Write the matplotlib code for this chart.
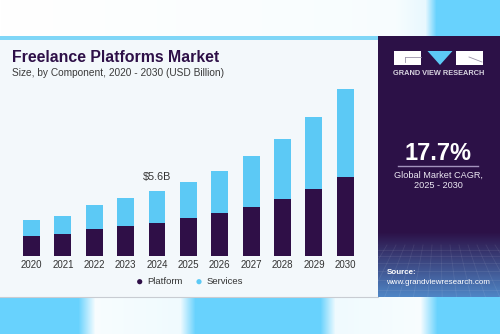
#!/usr/bin/env python3
"""
Freelance platforms market size by component, 2020 - 2030 (stacked bars).
"""

import numpy as np
import matplotlib
matplotlib.use("Agg")
import matplotlib.pyplot as plt
from matplotlib.patches import Rectangle, Polygon, Circle
from matplotlib.colors import to_rgb

# Data (USD billion)
years = ["2020", "2021", "2022", "2023", "2024", "2025", "2026", "2027", "2028", "2029", "2030"]
platform = [1.67, 1.84, 2.30, 2.56, 2.84, 3.22, 3.65, 4.22, 4.86, 5.72, 6.76]
services = [1.43, 1.61, 2.10, 2.39, 2.76, 3.13, 3.65, 4.35, 5.17, 6.21, 7.61]
callout_year = "2024"
callout_text = "$5.6B"
cagr_text = "17.7%"

PLATFORM_COL = "#2f0f47"
SERVICES_COL = "#5cc9f5"
CARD_COL = "#f3f8fb"
PANEL_COL = "#2c1147"
CYAN = "#68d2fd"

plt.rcParams['font.family'] = ['Liberation Sans', 'DejaVu Sans']

W, H = 500, 334
fig = plt.figure(figsize=(5.0, 3.34), dpi=100)

# ---- background / frame in pixel coordinates ----
bg = fig.add_axes([0, 0, 1, 1])
bg.set_xlim(0, W)
bg.set_ylim(H, 0)
bg.axis('off')

img = np.ones((H, W, 3))
xs = np.arange(W)
cyan = np.array(to_rgb(CYAN))
white = np.array([1.0, 1.0, 1.0])
# top band: white fading into cyan on the right
t_top = np.interp(xs, [0, 395, 425, 436, W], [0, 0.05, 0.15, 1, 1])
img[:36] = white * (1 - t_top[:, None]) + cyan * t_top[:, None]
# bottom band: cyan with two soft white patches
t_bot = np.interp(xs, [0, 78, 95, 180, 195, 320, 335, 420, 437, W],
                  [1, 1, 0.05, 0.1, 1, 1, 0.1, 0.05, 1, 1])
img[297:] = white * (1 - t_bot[:, None]) + cyan * t_bot[:, None]
bg.imshow(img, extent=[0, W, H, 0], aspect='auto', zorder=0)

# white card + right panel
bg.add_patch(Rectangle((0, 36), 378, 261, facecolor=CARD_COL, edgecolor='none', zorder=1))
bg.add_patch(Rectangle((0, 36), 378, 3.5, facecolor="#7fd6f7", edgecolor='none', zorder=2))
bg.plot([0, 378], [297, 297], color="#c8ccd2", lw=0.8, zorder=2)

# panel with a purple -> blue gradient at the bottom
grad = np.linspace(0, 1, 100)
top_c = np.array(to_rgb(PANEL_COL))
bot_c = np.array(to_rgb("#4f86c6"))
panel = top_c * (1 - grad[:, None]) + bot_c * grad[:, None]
bg.imshow(panel[:, None, :], extent=[378, W, 297, 232], aspect='auto', zorder=1)
bg.add_patch(Rectangle((378, 36), W - 378, 196.5, facecolor=PANEL_COL, edgecolor='none', zorder=1))
for gx in np.arange(378, W, 9):
    bg.plot([gx, 439 + (gx - 439) * 1.6], [245, 297], color='white', alpha=0.08, lw=0.6, zorder=2)
for gy in [250, 256, 263, 271, 280, 290]:
    bg.plot([378, W], [gy, gy], color='white', alpha=0.08, lw=0.6, zorder=2)

# logo
bg.add_patch(Rectangle((393.5, 51), 27, 14, facecolor='white', edgecolor='none', zorder=3))
bg.add_patch(Polygon([[427.5, 51], [452.5, 51], [440, 65]], closed=True,
                     facecolor=SERVICES_COL, edgecolor='none', zorder=3))
bg.add_patch(Rectangle((455.5, 51), 27.5, 14, facecolor='white', edgecolor='none', zorder=3))
bg.plot([405, 420.5], [57, 57], color='#9a93a8', lw=0.6, zorder=4)
bg.plot([405, 405], [57, 62], color='#9a93a8', lw=0.6, zorder=4)
bg.plot([469, 482], [57, 62], color='#9a93a8', lw=0.6, zorder=4)
bg.text(438.3, 73.8, "GRAND VIEW RESEARCH", color='#d8d4e0', fontsize=5.3,
        fontweight='bold', ha='center', va='center', zorder=4)

# CAGR block
bg.text(438.3, 153, cagr_text, color='white', fontsize=17, fontweight='bold',
        ha='center', va='center', zorder=4)
bg.plot([398, 478], [165.7, 165.7], color='#a393bd', lw=1.0, zorder=4)
bg.text(438.3, 175, "Global Market CAGR,", color='#ece8f2', fontsize=6.6,
        ha='center', va='center', zorder=4)
bg.text(438.3, 186, "2025 - 2030", color='#ece8f2', fontsize=6.6,
        ha='center', va='center', zorder=4)

# source
bg.text(386.5, 272.8, "Source:", color='white', fontsize=5.8, fontweight='bold',
        ha='left', va='center', zorder=4)
bg.text(386.5, 282.8, "www.grandviewresearch.com", color='white', fontsize=5.8,
        ha='left', va='center', zorder=4)

# titles
bg.text(12.5, 57.5, "Freelance Platforms Market", color='#2e1048', fontsize=11.4,
        fontweight='heavy', ha='left', va='center', zorder=4)
bg.text(12.5, 72.8, "Size, by Component, 2020 - 2030 (USD Billion)", color='#3a3a3a',
        fontsize=7.3, ha='left', va='center', zorder=4)

# legend
bg.add_patch(Circle((139.7, 281.7), 2.6, facecolor=PLATFORM_COL, edgecolor='none', zorder=4))
bg.text(147.5, 281.5, "Platform", color='#333333', fontsize=6.8, ha='left', va='center', zorder=4)
bg.add_patch(Circle((199, 281.7), 2.6, facecolor=SERVICES_COL, edgecolor='none', zorder=4))
bg.text(206.5, 281.5, "Services", color='#333333', fontsize=6.8, ha='left', va='center', zorder=4)

# ---- chart ----
px_per_unit = 65.0 / 5.6
y_max = 16.0
base_px = 255.7
step_px = 31.38
left_px = 31.5 - 0.6 * step_px
right_px = 345.3 + 0.6 * step_px
ax = fig.add_axes([left_px / W, (H - base_px) / H, (right_px - left_px) / W,
                   y_max * px_per_unit / H])
ax.set_facecolor('none')

x = np.arange(len(years))
ax.bar(x, platform, width=0.54, color=PLATFORM_COL, zorder=3)
ax.bar(x, services, width=0.54, bottom=platform, color=SERVICES_COL, zorder=3)

i = years.index(callout_year)
ax.text(x[i], platform[i] + services[i] + 0.75, callout_text, ha='center', va='bottom',
        fontsize=7.8, color='#333333')

ax.set_xlim(-0.6, len(years) - 0.4)
ax.set_ylim(0, y_max)
ax.set_xticks(x)
ax.set_xticklabels(years, fontsize=7.0, color='#333333')
ax.tick_params(axis='x', length=0, pad=3)
ax.set_yticks([])
for s in ax.spines.values():
    s.set_visible(False)

fig.savefig("out.png", dpi=100)
